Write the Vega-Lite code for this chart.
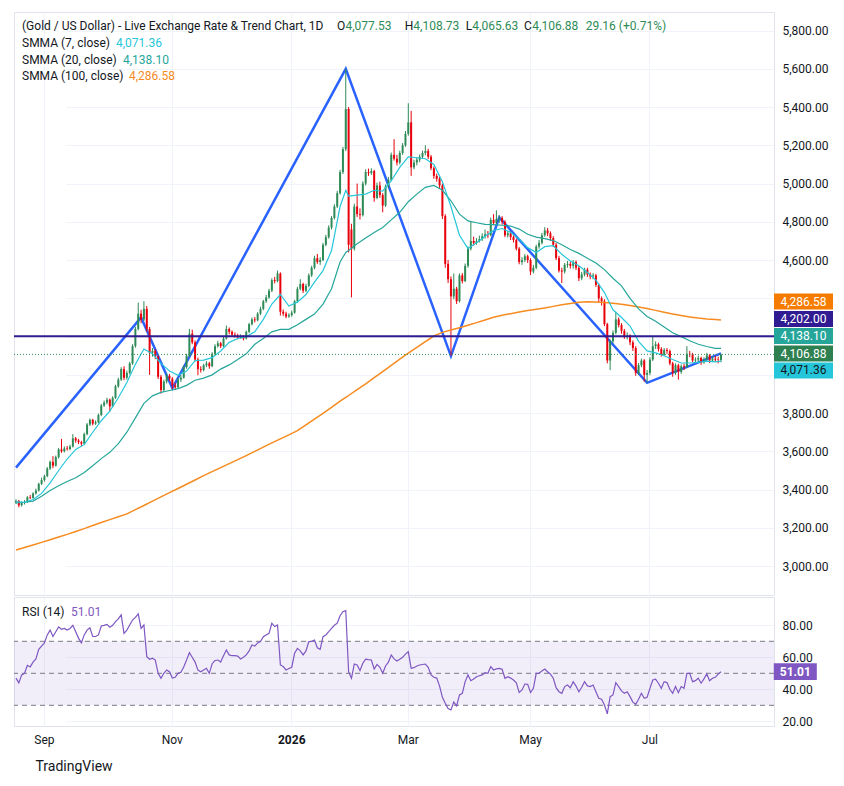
{
"$schema":"https://vega.github.io/schema/vega-lite/v6.json",
"background":"#FFFFFF",
"padding":{"left":10,"top":11,"right":4,"bottom":8},
"title":{"text":"TradingView","orient":"bottom","anchor":"start","offset":14,"dx":25,"fontSize":14,"fontWeight":"normal","font":"Roboto","color":"#131722"},
"datasets":{
"candles":[
{"date":"2025-08-18","open":3332,"high":3350,"low":3324,"close":3340,"rsi":47},
{"date":"2025-08-19","open":3340,"high":3346,"low":3308,"close":3318,"rsi":44},
{"date":"2025-08-20","open":3318,"high":3338,"low":3312,"close":3330,"rsi":49},
{"date":"2025-08-21","open":3330,"high":3345,"low":3322,"close":3335,"rsi":50},
{"date":"2025-08-22","open":3335,"high":3366,"low":3330,"close":3360,"rsi":55},
{"date":"2025-08-25","open":3360,"high":3372,"low":3350,"close":3357,"rsi":54},
{"date":"2025-08-26","open":3357,"high":3386,"low":3352,"close":3380,"rsi":57},
{"date":"2025-08-27","open":3380,"high":3405,"low":3374,"close":3395,"rsi":59},
{"date":"2025-08-28","open":3395,"high":3436,"low":3390,"close":3430,"rsi":65},
{"date":"2025-08-29","open":3430,"high":3462,"low":3424,"close":3450,"rsi":67},
{"date":"2025-09-01","open":3450,"high":3478,"low":3442,"close":3470,"rsi":69},
{"date":"2025-09-02","open":3470,"high":3518,"low":3465,"close":3510,"rsi":74},
{"date":"2025-09-03","open":3510,"high":3552,"low":3502,"close":3545,"rsi":77},
{"date":"2025-09-04","open":3545,"high":3575,"low":3512,"close":3525,"rsi":73},
{"date":"2025-09-05","open":3525,"high":3578,"low":3520,"close":3570,"rsi":76},
{"date":"2025-09-08","open":3570,"high":3618,"low":3562,"close":3610,"rsi":79},
{"date":"2025-09-09","open":3610,"high":3665,"low":3592,"close":3600,"rsi":77.5},
{"date":"2025-09-10","open":3600,"high":3626,"low":3594,"close":3615,"rsi":78},
{"date":"2025-09-11","open":3615,"high":3628,"low":3604,"close":3612,"rsi":77},
{"date":"2025-09-12","open":3612,"high":3634,"low":3606,"close":3625,"rsi":78},
{"date":"2025-09-15","open":3625,"high":3690,"low":3620,"close":3668,"rsi":80},
{"date":"2025-09-16","open":3668,"high":3675,"low":3645,"close":3657,"rsi":76},
{"date":"2025-09-17","open":3657,"high":3665,"low":3638,"close":3648,"rsi":72},
{"date":"2025-09-18","open":3648,"high":3655,"low":3628,"close":3640,"rsi":69},
{"date":"2025-09-19","open":3640,"high":3698,"low":3636,"close":3690,"rsi":74},
{"date":"2025-09-22","open":3690,"high":3748,"low":3684,"close":3740,"rsi":77},
{"date":"2025-09-23","open":3740,"high":3772,"low":3732,"close":3765,"rsi":78.5},
{"date":"2025-09-24","open":3765,"high":3770,"low":3735,"close":3745,"rsi":73},
{"date":"2025-09-25","open":3745,"high":3762,"low":3738,"close":3752,"rsi":73},
{"date":"2025-09-26","open":3752,"high":3798,"low":3746,"close":3790,"rsi":74},
{"date":"2025-09-29","open":3790,"high":3848,"low":3784,"close":3840,"rsi":79.6},
{"date":"2025-09-30","open":3840,"high":3866,"low":3832,"close":3855,"rsi":80},
{"date":"2025-10-01","open":3855,"high":3880,"low":3846,"close":3870,"rsi":80.6},
{"date":"2025-10-02","open":3870,"high":3876,"low":3808,"close":3835,"rsi":78.8},
{"date":"2025-10-03","open":3835,"high":3888,"low":3830,"close":3880,"rsi":80},
{"date":"2025-10-06","open":3880,"high":3948,"low":3874,"close":3940,"rsi":82.3},
{"date":"2025-10-07","open":3940,"high":3985,"low":3932,"close":3975,"rsi":84},
{"date":"2025-10-08","open":3975,"high":4040,"low":3968,"close":4030,"rsi":86.5},
{"date":"2025-10-09","open":4030,"high":4045,"low":3972,"close":3985,"rsi":75},
{"date":"2025-10-10","open":3985,"high":4022,"low":3975,"close":4010,"rsi":77},
{"date":"2025-10-13","open":4010,"high":4068,"low":4002,"close":4060,"rsi":80.2},
{"date":"2025-10-14","open":4060,"high":4160,"low":4052,"close":4150,"rsi":83.3},
{"date":"2025-10-15","open":4150,"high":4252,"low":4142,"close":4240,"rsi":85},
{"date":"2025-10-16","open":4240,"high":4378,"low":4232,"close":4320,"rsi":87.1},
{"date":"2025-10-17","open":4320,"high":4340,"low":4270,"close":4290,"rsi":78.1},
{"date":"2025-10-20","open":4290,"high":4385,"low":4282,"close":4345,"rsi":80.2},
{"date":"2025-10-21","open":4345,"high":4360,"low":4225,"close":4240,"rsi":60.4},
{"date":"2025-10-22","open":4240,"high":4250,"low":4000,"close":4115,"rsi":58.8},
{"date":"2025-10-23","open":4115,"high":4140,"low":4095,"close":4125,"rsi":59.4},
{"date":"2025-10-24","open":4125,"high":4135,"low":4082,"close":4095,"rsi":58.3},
{"date":"2025-10-27","open":4095,"high":4102,"low":3978,"close":3990,"rsi":50},
{"date":"2025-10-28","open":3990,"high":4000,"low":3902,"close":3920,"rsi":46.9},
{"date":"2025-10-29","open":3920,"high":3975,"low":3912,"close":3965,"rsi":50},
{"date":"2025-10-30","open":3965,"high":4008,"low":3955,"close":3995,"rsi":52.1},
{"date":"2025-10-31","open":3995,"high":4005,"low":3968,"close":3980,"rsi":51},
{"date":"2025-11-03","open":3980,"high":3988,"low":3925,"close":3945,"rsi":47},
{"date":"2025-11-04","open":3945,"high":3958,"low":3922,"close":3935,"rsi":47.5},
{"date":"2025-11-05","open":3935,"high":3984,"low":3930,"close":3975,"rsi":50},
{"date":"2025-11-06","open":3975,"high":3998,"low":3962,"close":3985,"rsi":50.6},
{"date":"2025-11-07","open":3985,"high":4050,"low":3980,"close":4040,"rsi":54},
{"date":"2025-11-10","open":4040,"high":4110,"low":4032,"close":4100,"rsi":58.3},
{"date":"2025-11-11","open":4100,"high":4240,"low":4092,"close":4215,"rsi":62.9},
{"date":"2025-11-12","open":4215,"high":4236,"low":4160,"close":4170,"rsi":60},
{"date":"2025-11-13","open":4170,"high":4180,"low":4070,"close":4080,"rsi":57},
{"date":"2025-11-14","open":4080,"high":4090,"low":3998,"close":4030,"rsi":52},
{"date":"2025-11-17","open":4030,"high":4045,"low":4012,"close":4025,"rsi":51},
{"date":"2025-11-18","open":4025,"high":4058,"low":4018,"close":4050,"rsi":52},
{"date":"2025-11-19","open":4050,"high":4072,"low":4040,"close":4060,"rsi":53.1},
{"date":"2025-11-20","open":4060,"high":4068,"low":4032,"close":4045,"rsi":50},
{"date":"2025-11-21","open":4045,"high":4118,"low":4040,"close":4110,"rsi":56},
{"date":"2025-11-24","open":4110,"high":4160,"low":4102,"close":4150,"rsi":58},
{"date":"2025-11-25","open":4150,"high":4178,"low":4142,"close":4165,"rsi":58.3},
{"date":"2025-11-26","open":4165,"high":4172,"low":4140,"close":4150,"rsi":57},
{"date":"2025-11-27","open":4150,"high":4198,"low":4145,"close":4190,"rsi":61},
{"date":"2025-11-28","open":4190,"high":4258,"low":4184,"close":4240,"rsi":64.6},
{"date":"2025-12-01","open":4240,"high":4248,"low":4212,"close":4225,"rsi":61.5},
{"date":"2025-12-02","open":4225,"high":4232,"low":4200,"close":4210,"rsi":61},
{"date":"2025-12-03","open":4210,"high":4222,"low":4195,"close":4205,"rsi":61},
{"date":"2025-12-04","open":4205,"high":4215,"low":4186,"close":4195,"rsi":60.8},
{"date":"2025-12-05","open":4195,"high":4212,"low":4188,"close":4200,"rsi":59},
{"date":"2025-12-08","open":4200,"high":4208,"low":4180,"close":4190,"rsi":60},
{"date":"2025-12-09","open":4190,"high":4232,"low":4185,"close":4225,"rsi":61.5},
{"date":"2025-12-10","open":4225,"high":4272,"low":4218,"close":4265,"rsi":64},
{"date":"2025-12-11","open":4265,"high":4300,"low":4258,"close":4290,"rsi":67.7},
{"date":"2025-12-12","open":4290,"high":4302,"low":4274,"close":4285,"rsi":67},
{"date":"2025-12-15","open":4285,"high":4328,"low":4280,"close":4320,"rsi":69},
{"date":"2025-12-16","open":4320,"high":4356,"low":4312,"close":4345,"rsi":69.8},
{"date":"2025-12-17","open":4345,"high":4392,"low":4338,"close":4385,"rsi":72.9},
{"date":"2025-12-18","open":4385,"high":4418,"low":4376,"close":4405,"rsi":74},
{"date":"2025-12-19","open":4405,"high":4450,"low":4398,"close":4440,"rsi":75},
{"date":"2025-12-22","open":4440,"high":4505,"low":4432,"close":4495,"rsi":81.3},
{"date":"2025-12-23","open":4495,"high":4512,"low":4478,"close":4490,"rsi":79.2},
{"date":"2025-12-24","open":4490,"high":4545,"low":4484,"close":4530,"rsi":80.2},
{"date":"2025-12-26","open":4530,"high":4536,"low":4310,"close":4330,"rsi":55.2},
{"date":"2025-12-29","open":4330,"high":4342,"low":4308,"close":4320,"rsi":54.2},
{"date":"2025-12-30","open":4320,"high":4330,"low":4296,"close":4305,"rsi":52.1},
{"date":"2025-12-31","open":4305,"high":4322,"low":4298,"close":4312,"rsi":53},
{"date":"2026-01-02","open":4312,"high":4336,"low":4304,"close":4325,"rsi":53.8},
{"date":"2026-01-05","open":4325,"high":4392,"low":4320,"close":4385,"rsi":62.5},
{"date":"2026-01-06","open":4385,"high":4460,"low":4378,"close":4450,"rsi":65.6},
{"date":"2026-01-07","open":4450,"high":4500,"low":4442,"close":4475,"rsi":64},
{"date":"2026-01-08","open":4475,"high":4482,"low":4428,"close":4440,"rsi":61.5},
{"date":"2026-01-09","open":4440,"high":4476,"low":4432,"close":4465,"rsi":64},
{"date":"2026-01-12","open":4465,"high":4530,"low":4458,"close":4520,"rsi":69.8},
{"date":"2026-01-13","open":4520,"high":4570,"low":4512,"close":4560,"rsi":70},
{"date":"2026-01-14","open":4560,"high":4622,"low":4552,"close":4610,"rsi":70.8},
{"date":"2026-01-15","open":4610,"high":4632,"low":4580,"close":4590,"rsi":66},
{"date":"2026-01-16","open":4590,"high":4615,"low":4575,"close":4600,"rsi":65},
{"date":"2026-01-19","open":4600,"high":4690,"low":4595,"close":4680,"rsi":72.9},
{"date":"2026-01-20","open":4680,"high":4732,"low":4672,"close":4720,"rsi":74},
{"date":"2026-01-21","open":4720,"high":4782,"low":4712,"close":4770,"rsi":76},
{"date":"2026-01-22","open":4770,"high":4830,"low":4760,"close":4820,"rsi":78.1},
{"date":"2026-01-23","open":4820,"high":4892,"low":4812,"close":4880,"rsi":80},
{"date":"2026-01-26","open":4880,"high":4962,"low":4872,"close":4950,"rsi":81.3},
{"date":"2026-01-27","open":4950,"high":5072,"low":4942,"close":5060,"rsi":86},
{"date":"2026-01-28","open":5060,"high":5192,"low":5050,"close":5180,"rsi":88.5},
{"date":"2026-01-29","open":5180,"high":5600,"low":5170,"close":5390,"rsi":89.2},
{"date":"2026-01-30","open":5390,"high":5400,"low":4640,"close":4680,"rsi":51},
{"date":"2026-02-02","open":4760,"high":4790,"low":4405,"close":4660,"rsi":46.9},
{"date":"2026-02-03","open":4660,"high":4895,"low":4650,"close":4880,"rsi":55.8},
{"date":"2026-02-04","open":4880,"high":5000,"low":4825,"close":4840,"rsi":55.2},
{"date":"2026-02-05","open":4840,"high":4870,"low":4812,"close":4835,"rsi":51.7},
{"date":"2026-02-06","open":4835,"high":5012,"low":4828,"close":5000,"rsi":56.3},
{"date":"2026-02-09","open":5000,"high":5075,"low":4990,"close":5060,"rsi":58.8},
{"date":"2026-02-10","open":5060,"high":5078,"low":5040,"close":5055,"rsi":58.5},
{"date":"2026-02-11","open":5055,"high":5080,"low":5045,"close":5065,"rsi":58.3},
{"date":"2026-02-12","open":5065,"high":5072,"low":4905,"close":4925,"rsi":52.7},
{"date":"2026-02-13","open":4925,"high":5005,"low":4918,"close":4990,"rsi":55.6},
{"date":"2026-02-16","open":4990,"high":5010,"low":4925,"close":4940,"rsi":53.8},
{"date":"2026-02-17","open":4940,"high":4950,"low":4850,"close":4885,"rsi":50},
{"date":"2026-02-18","open":4885,"high":4995,"low":4878,"close":4985,"rsi":54.6},
{"date":"2026-02-19","open":4985,"high":5035,"low":4975,"close":5020,"rsi":57},
{"date":"2026-02-20","open":5020,"high":5162,"low":5012,"close":5150,"rsi":61.5},
{"date":"2026-02-23","open":5150,"high":5232,"low":5120,"close":5130,"rsi":59},
{"date":"2026-02-24","open":5130,"high":5150,"low":5095,"close":5110,"rsi":57.7},
{"date":"2026-02-25","open":5110,"high":5172,"low":5100,"close":5160,"rsi":58.8},
{"date":"2026-02-26","open":5160,"high":5212,"low":5150,"close":5200,"rsi":60},
{"date":"2026-02-27","open":5200,"high":5275,"low":5192,"close":5260,"rsi":62},
{"date":"2026-03-02","open":5260,"high":5420,"low":5250,"close":5320,"rsi":63.5},
{"date":"2026-03-03","open":5320,"high":5380,"low":5040,"close":5085,"rsi":53.1},
{"date":"2026-03-04","open":5085,"high":5125,"low":5075,"close":5110,"rsi":53.5},
{"date":"2026-03-05","open":5110,"high":5138,"low":5095,"close":5125,"rsi":54.6},
{"date":"2026-03-06","open":5125,"high":5152,"low":5112,"close":5140,"rsi":55.2},
{"date":"2026-03-09","open":5140,"high":5172,"low":5130,"close":5160,"rsi":55.5},
{"date":"2026-03-10","open":5160,"high":5200,"low":5148,"close":5170,"rsi":55.8},
{"date":"2026-03-11","open":5170,"high":5182,"low":5128,"close":5140,"rsi":53.8},
{"date":"2026-03-12","open":5140,"high":5150,"low":5070,"close":5080,"rsi":49},
{"date":"2026-03-13","open":5080,"high":5090,"low":5025,"close":5040,"rsi":47.5},
{"date":"2026-03-16","open":5040,"high":5052,"low":5010,"close":5025,"rsi":47},
{"date":"2026-03-17","open":5025,"high":5035,"low":4975,"close":4990,"rsi":42},
{"date":"2026-03-18","open":4990,"high":5000,"low":4815,"close":4830,"rsi":35},
{"date":"2026-03-19","open":4830,"high":4840,"low":4560,"close":4580,"rsi":31.3},
{"date":"2026-03-20","open":4580,"high":4600,"low":4480,"close":4500,"rsi":28},
{"date":"2026-03-23","open":4500,"high":4515,"low":4100,"close":4410,"rsi":27.1},
{"date":"2026-03-24","open":4410,"high":4530,"low":4395,"close":4450,"rsi":32},
{"date":"2026-03-25","open":4450,"high":4460,"low":4370,"close":4385,"rsi":29.6},
{"date":"2026-03-26","open":4385,"high":4530,"low":4378,"close":4520,"rsi":36.5},
{"date":"2026-03-27","open":4520,"high":4532,"low":4478,"close":4490,"rsi":37.5},
{"date":"2026-03-30","open":4490,"high":4582,"low":4485,"close":4570,"rsi":44.8},
{"date":"2026-03-31","open":4570,"high":4672,"low":4560,"close":4660,"rsi":49},
{"date":"2026-04-01","open":4660,"high":4800,"low":4650,"close":4700,"rsi":45.4},
{"date":"2026-04-02","open":4700,"high":4722,"low":4675,"close":4690,"rsi":46.5},
{"date":"2026-04-06","open":4690,"high":4715,"low":4680,"close":4700,"rsi":47.9},
{"date":"2026-04-07","open":4700,"high":4728,"low":4692,"close":4710,"rsi":48.5},
{"date":"2026-04-08","open":4710,"high":4740,"low":4700,"close":4725,"rsi":49},
{"date":"2026-04-09","open":4725,"high":4760,"low":4712,"close":4735,"rsi":50.4},
{"date":"2026-04-10","open":4735,"high":4752,"low":4715,"close":4730,"rsi":50},
{"date":"2026-04-13","open":4730,"high":4822,"low":4725,"close":4810,"rsi":54.2},
{"date":"2026-04-14","open":4810,"high":4840,"low":4782,"close":4795,"rsi":52.1},
{"date":"2026-04-15","open":4795,"high":4860,"low":4788,"close":4815,"rsi":52.8},
{"date":"2026-04-16","open":4815,"high":4835,"low":4795,"close":4820,"rsi":53.1},
{"date":"2026-04-17","open":4820,"high":4830,"low":4785,"close":4800,"rsi":52.5},
{"date":"2026-04-20","open":4800,"high":4808,"low":4720,"close":4730,"rsi":46.9},
{"date":"2026-04-21","open":4730,"high":4752,"low":4718,"close":4740,"rsi":47.9},
{"date":"2026-04-22","open":4740,"high":4750,"low":4705,"close":4720,"rsi":47},
{"date":"2026-04-23","open":4720,"high":4730,"low":4692,"close":4705,"rsi":45.8},
{"date":"2026-04-24","open":4705,"high":4712,"low":4650,"close":4660,"rsi":44},
{"date":"2026-04-27","open":4660,"high":4668,"low":4578,"close":4590,"rsi":38},
{"date":"2026-04-28","open":4590,"high":4615,"low":4575,"close":4600,"rsi":39.6},
{"date":"2026-04-29","open":4600,"high":4632,"low":4590,"close":4620,"rsi":43.3},
{"date":"2026-04-30","open":4620,"high":4628,"low":4585,"close":4600,"rsi":43.1},
{"date":"2026-05-01","open":4600,"high":4610,"low":4522,"close":4540,"rsi":38},
{"date":"2026-05-04","open":4540,"high":4575,"low":4530,"close":4560,"rsi":40.6},
{"date":"2026-05-05","open":4560,"high":4680,"low":4552,"close":4670,"rsi":50},
{"date":"2026-05-06","open":4670,"high":4705,"low":4660,"close":4690,"rsi":50},
{"date":"2026-05-07","open":4690,"high":4742,"low":4682,"close":4730,"rsi":51.5},
{"date":"2026-05-08","open":4730,"high":4772,"low":4722,"close":4755,"rsi":52.7},
{"date":"2026-05-11","open":4755,"high":4768,"low":4725,"close":4740,"rsi":51},
{"date":"2026-05-12","open":4740,"high":4750,"low":4700,"close":4715,"rsi":49.5},
{"date":"2026-05-13","open":4715,"high":4725,"low":4668,"close":4680,"rsi":46.9},
{"date":"2026-05-14","open":4680,"high":4690,"low":4600,"close":4610,"rsi":41},
{"date":"2026-05-15","open":4610,"high":4622,"low":4535,"close":4545,"rsi":38.5},
{"date":"2026-05-18","open":4545,"high":4560,"low":4480,"close":4540,"rsi":37.5},
{"date":"2026-05-19","open":4540,"high":4585,"low":4530,"close":4575,"rsi":41.7},
{"date":"2026-05-20","open":4575,"high":4595,"low":4560,"close":4580,"rsi":42.7},
{"date":"2026-05-21","open":4580,"high":4592,"low":4555,"close":4570,"rsi":41},
{"date":"2026-05-22","open":4570,"high":4600,"low":4555,"close":4590,"rsi":44.8},
{"date":"2026-05-26","open":4590,"high":4598,"low":4548,"close":4560,"rsi":42},
{"date":"2026-05-27","open":4560,"high":4570,"low":4490,"close":4505,"rsi":38.5},
{"date":"2026-05-28","open":4505,"high":4538,"low":4495,"close":4525,"rsi":41.3},
{"date":"2026-05-29","open":4525,"high":4560,"low":4515,"close":4550,"rsi":44.8},
{"date":"2026-06-01","open":4550,"high":4560,"low":4512,"close":4525,"rsi":42.1},
{"date":"2026-06-02","open":4525,"high":4535,"low":4500,"close":4515,"rsi":41.7},
{"date":"2026-06-03","open":4515,"high":4532,"low":4500,"close":4520,"rsi":42.7},
{"date":"2026-06-04","open":4520,"high":4528,"low":4460,"close":4470,"rsi":38.5},
{"date":"2026-06-05","open":4470,"high":4478,"low":4380,"close":4400,"rsi":34.4},
{"date":"2026-06-08","open":4400,"high":4410,"low":4362,"close":4385,"rsi":33.8},
{"date":"2026-06-09","open":4385,"high":4395,"low":4255,"close":4265,"rsi":30.2},
{"date":"2026-06-10","open":4265,"high":4272,"low":4060,"close":4075,"rsi":24.6},
{"date":"2026-06-11","open":4075,"high":4185,"low":4025,"close":4175,"rsi":35.4},
{"date":"2026-06-12","open":4175,"high":4232,"low":4165,"close":4220,"rsi":36.5},
{"date":"2026-06-15","open":4220,"high":4330,"low":4212,"close":4290,"rsi":44.2},
{"date":"2026-06-16","open":4290,"high":4300,"low":4248,"close":4260,"rsi":41.7},
{"date":"2026-06-17","open":4260,"high":4270,"low":4215,"close":4230,"rsi":39},
{"date":"2026-06-18","open":4230,"high":4240,"low":4188,"close":4200,"rsi":37.5},
{"date":"2026-06-19","open":4200,"high":4222,"low":4185,"close":4205,"rsi":38.5},
{"date":"2026-06-22","open":4205,"high":4212,"low":4155,"close":4170,"rsi":35.4},
{"date":"2026-06-23","open":4170,"high":4180,"low":4125,"close":4140,"rsi":32},
{"date":"2026-06-24","open":4140,"high":4150,"low":3995,"close":4010,"rsi":30.6},
{"date":"2026-06-25","open":4010,"high":4062,"low":4000,"close":4050,"rsi":33.8},
{"date":"2026-06-26","open":4050,"high":4085,"low":4040,"close":4075,"rsi":37.5},
{"date":"2026-06-29","open":4075,"high":4082,"low":3965,"close":4000,"rsi":34.4},
{"date":"2026-06-30","open":4000,"high":4025,"low":3960,"close":4010,"rsi":35},
{"date":"2026-07-01","open":4010,"high":4092,"low":3998,"close":4080,"rsi":40.6},
{"date":"2026-07-02","open":4080,"high":4200,"low":4072,"close":4150,"rsi":45.8},
{"date":"2026-07-03","open":4150,"high":4175,"low":4135,"close":4160,"rsi":46.3},
{"date":"2026-07-06","open":4160,"high":4168,"low":4122,"close":4135,"rsi":43.8},
{"date":"2026-07-07","open":4135,"high":4145,"low":4095,"close":4105,"rsi":40.6},
{"date":"2026-07-08","open":4105,"high":4140,"low":4098,"close":4130,"rsi":44.8},
{"date":"2026-07-09","open":4130,"high":4140,"low":4110,"close":4125,"rsi":44.2},
{"date":"2026-07-10","open":4125,"high":4132,"low":4050,"close":4060,"rsi":40},
{"date":"2026-07-13","open":4060,"high":4068,"low":3990,"close":4010,"rsi":37.5},
{"date":"2026-07-14","open":4010,"high":4060,"low":4000,"close":4050,"rsi":41.7},
{"date":"2026-07-15","open":4050,"high":4058,"low":3975,"close":4015,"rsi":37.9},
{"date":"2026-07-16","open":4015,"high":4055,"low":4005,"close":4045,"rsi":41.7},
{"date":"2026-07-17","open":4045,"high":4058,"low":4025,"close":4040,"rsi":40.6},
{"date":"2026-07-20","open":4040,"high":4150,"low":4035,"close":4110,"rsi":50},
{"date":"2026-07-21","open":4110,"high":4125,"low":4092,"close":4108,"rsi":50},
{"date":"2026-07-22","open":4108,"high":4115,"low":4065,"close":4075,"rsi":44.8},
{"date":"2026-07-23","open":4075,"high":4092,"low":4062,"close":4080,"rsi":45.4},
{"date":"2026-07-24","open":4080,"high":4100,"low":4070,"close":4088,"rsi":46.9},
{"date":"2026-07-27","open":4088,"high":4095,"low":4052,"close":4065,"rsi":43.8},
{"date":"2026-07-28","open":4065,"high":4092,"low":4058,"close":4080,"rsi":46.5},
{"date":"2026-07-29","open":4080,"high":4115,"low":4070,"close":4102,"rsi":49.6},
{"date":"2026-07-30","open":4102,"high":4108,"low":4062,"close":4075,"rsi":45.4},
{"date":"2026-07-31","open":4075,"high":4098,"low":4068,"close":4085,"rsi":46.9},
{"date":"2026-08-03","open":4085,"high":4100,"low":4068,"close":4080,"rsi":47.5},
{"date":"2026-08-04","open":4080,"high":4095,"low":4060,"close":4077.72,"rsi":49.5},
{"date":"2026-08-05","open":4077.53,"high":4108.73,"low":4065.63,"close":4106.88,"rsi":51.01}
],
"smma":[
{"date":"2025-08-18","smma7":3336,"smma20":3330,"smma100":3084},
{"date":"2025-08-21","smma7":3334,"smma20":3334,"smma100":3097},
{"date":"2025-08-26","smma7":3348,"smma20":3340,"smma100":3110},
{"date":"2025-08-29","smma7":3380,"smma20":3365,"smma100":3124},
{"date":"2025-09-03","smma7":3435,"smma20":3395,"smma100":3138},
{"date":"2025-09-08","smma7":3500,"smma20":3420,"smma100":3152},
{"date":"2025-09-11","smma7":3560,"smma20":3442,"smma100":3166},
{"date":"2025-09-16","smma7":3610,"smma20":3462,"smma100":3181},
{"date":"2025-09-19","smma7":3635,"smma20":3490,"smma100":3196},
{"date":"2025-09-24","smma7":3700,"smma20":3525,"smma100":3212},
{"date":"2025-09-29","smma7":3760,"smma20":3562,"smma100":3228},
{"date":"2025-10-02","smma7":3810,"smma20":3595,"smma100":3243},
{"date":"2025-10-07","smma7":3880,"smma20":3640,"smma100":3258},
{"date":"2025-10-10","smma7":3960,"smma20":3700,"smma100":3273},
{"date":"2025-10-15","smma7":4055,"smma20":3775,"smma100":3295},
{"date":"2025-10-20","smma7":4135,"smma20":3851,"smma100":3317},
{"date":"2025-10-23","smma7":4110,"smma20":3890,"smma100":3340},
{"date":"2025-10-28","smma7":4060,"smma20":3908,"smma100":3362},
{"date":"2025-10-31","smma7":4020,"smma20":3918,"smma100":3384},
{"date":"2025-11-05","smma7":3998,"smma20":3928,"smma100":3406},
{"date":"2025-11-10","smma7":4020,"smma20":3945,"smma100":3428},
{"date":"2025-11-13","smma7":4075,"smma20":3972,"smma100":3450},
{"date":"2025-11-18","smma7":4077,"smma20":3983,"smma100":3473},
{"date":"2025-11-21","smma7":4090,"smma20":4000,"smma100":3494},
{"date":"2025-11-26","smma7":4125,"smma20":4030,"smma100":3515},
{"date":"2025-12-01","smma7":4170,"smma20":4052,"smma100":3536},
{"date":"2025-12-04","smma7":4190,"smma20":4080,"smma100":3557},
{"date":"2025-12-09","smma7":4200,"smma20":4110,"smma100":3578},
{"date":"2025-12-12","smma7":4225,"smma20":4160,"smma100":3600},
{"date":"2025-12-17","smma7":4290,"smma20":4190,"smma100":3622},
{"date":"2025-12-22","smma7":4370,"smma20":4225,"smma100":3644},
{"date":"2025-12-26","smma7":4420,"smma20":4238,"smma100":3665},
{"date":"2025-12-31","smma7":4360,"smma20":4238,"smma100":3686},
{"date":"2026-01-06","smma7":4380,"smma20":4262,"smma100":3708},
{"date":"2026-01-09","smma7":4420,"smma20":4290,"smma100":3738},
{"date":"2026-01-14","smma7":4485,"smma20":4318,"smma100":3768},
{"date":"2026-01-19","smma7":4545,"smma20":4370,"smma100":3798},
{"date":"2026-01-22","smma7":4650,"smma20":4450,"smma100":3830},
{"date":"2026-01-27","smma7":4880,"smma20":4590,"smma100":3862},
{"date":"2026-01-29","smma7":4965,"smma20":4640,"smma100":3882},
{"date":"2026-01-30","smma7":4935,"smma20":4650,"smma100":3892},
{"date":"2026-02-04","smma7":4940,"smma20":4685,"smma100":3923},
{"date":"2026-02-09","smma7":4945,"smma20":4715,"smma100":3953},
{"date":"2026-02-12","smma7":4965,"smma20":4744,"smma100":3985},
{"date":"2026-02-17","smma7":4960,"smma20":4770,"smma100":4017},
{"date":"2026-02-20","smma7":5015,"smma20":4810,"smma100":4050},
{"date":"2026-02-25","smma7":5085,"smma20":4850,"smma100":4082},
{"date":"2026-03-02","smma7":5140,"smma20":4905,"smma100":4113},
{"date":"2026-03-05","smma7":5135,"smma20":4945,"smma100":4144},
{"date":"2026-03-10","smma7":5130,"smma20":4980,"smma100":4174},
{"date":"2026-03-13","smma7":5100,"smma20":4990,"smma100":4203},
{"date":"2026-03-18","smma7":5010,"smma20":4965,"smma100":4222},
{"date":"2026-03-23","smma7":4880,"smma20":4910,"smma100":4234},
{"date":"2026-03-26","smma7":4730,"smma20":4840,"smma100":4246},
{"date":"2026-03-31","smma7":4660,"smma20":4805,"smma100":4259},
{"date":"2026-04-06","smma7":4690,"smma20":4795,"smma100":4273},
{"date":"2026-04-09","smma7":4725,"smma20":4787,"smma100":4287},
{"date":"2026-04-14","smma7":4755,"smma20":4785,"smma100":4301},
{"date":"2026-04-17","smma7":4765,"smma20":4782,"smma100":4312},
{"date":"2026-04-22","smma7":4745,"smma20":4778,"smma100":4320},
{"date":"2026-04-27","smma7":4710,"smma20":4762,"smma100":4328},
{"date":"2026-04-30","smma7":4665,"smma20":4735,"smma100":4336},
{"date":"2026-05-05","smma7":4640,"smma20":4720,"smma100":4343},
{"date":"2026-05-08","smma7":4670,"smma20":4712,"smma100":4350},
{"date":"2026-05-13","smma7":4675,"smma20":4702,"smma100":4358},
{"date":"2026-05-18","smma7":4630,"smma20":4680,"smma100":4366},
{"date":"2026-05-21","smma7":4595,"smma20":4655,"smma100":4373},
{"date":"2026-05-27","smma7":4570,"smma20":4635,"smma100":4379},
{"date":"2026-06-01","smma7":4535,"smma20":4610,"smma100":4382},
{"date":"2026-06-04","smma7":4495,"smma20":4585,"smma100":4381},
{"date":"2026-06-09","smma7":4430,"smma20":4550,"smma100":4378},
{"date":"2026-06-12","smma7":4340,"smma20":4505,"smma100":4374},
{"date":"2026-06-17","smma7":4300,"smma20":4465,"smma100":4369},
{"date":"2026-06-22","smma7":4255,"smma20":4400,"smma100":4362},
{"date":"2026-06-25","smma7":4175,"smma20":4345,"smma100":4355},
{"date":"2026-06-30","smma7":4125,"smma20":4305,"smma100":4347},
{"date":"2026-07-03","smma7":4115,"smma20":4280,"smma100":4337},
{"date":"2026-07-08","smma7":4100,"smma20":4250,"smma100":4327},
{"date":"2026-07-13","smma7":4080,"smma20":4220,"smma100":4318},
{"date":"2026-07-16","smma7":4062,"smma20":4200,"smma100":4310},
{"date":"2026-07-21","smma7":4062,"smma20":4178,"smma100":4303},
{"date":"2026-07-24","smma7":4065,"smma20":4160,"smma100":4297},
{"date":"2026-07-29","smma7":4072,"smma20":4148,"smma100":4292},
{"date":"2026-08-03","smma7":4068,"smma20":4138,"smma100":4289},
{"date":"2026-08-05","smma7":4071.36,"smma20":4138.10,"smma100":4286.58}
],
"zigzag":[
{"date":"2025-08-18","price":3515},
{"date":"2025-10-17","price":4300},
{"date":"2025-11-03","price":3930},
{"date":"2026-01-29","price":5600},
{"date":"2026-03-23","price":4098},
{"date":"2026-04-16","price":4823},
{"date":"2026-06-30","price":3958},
{"date":"2026-08-05","price":4112}
]
},
"spacing":0,
"resolve":{"scale":{"x":"shared"}},
"vconcat":[
{
"width":760,"height":583,
"layer":[
{
"encoding":{"x":{"field":"date","type":"ordinal","title":null,"scale":{"type":"band","range":[1,708],"paddingInner":0.3,"paddingOuter":0},"axis":{"values":["2025-09-01","2025-11-03","2026-01-02","2026-03-02","2026-05-01","2026-07-01"],"labels":false,"grid":true}}},
"layer":[
{"data":{"name":"zigzag"},"mark":{"type":"line","color":"#2962FF","strokeWidth":2.5},"encoding":{"y":{"field":"price","type":"quantitative","title":null,"scale":{"domain":[2849,5897],"nice":false,"zero":false},"axis":{"orient":"right","values":[3000,3200,3400,3600,3800,4000,4200,4400,4600,4800,5000,5200,5400,5600,5800],"format":",.2f","labelPadding":8,"grid":true,"labelExpr":"datum.value == 4000 || datum.value == 4200 || datum.value == 4400 ? '' : datum.label"}}}},
{"data":{"name":"candles"},"mark":{"type":"rule","strokeWidth":1},"encoding":{"y":{"field":"low","type":"quantitative","title":null},"y2":{"field":"high"},"color":{"condition":{"test":"datum.close >= datum.open","value":"#2E8B57"},"value":"#E8000B"}}},
{"data":{"name":"candles"},"mark":{"type":"bar"},"encoding":{"y":{"field":"open","type":"quantitative","title":null},"y2":{"field":"close"},"color":{"condition":{"test":"datum.close >= datum.open","value":"#2E8B57"},"value":"#E8000B"}}},
{"data":{"name":"smma"},"mark":{"type":"line","color":"#F68B1F","strokeWidth":1.5},"encoding":{"y":{"field":"smma100","type":"quantitative","title":null}}},
{"data":{"name":"smma"},"mark":{"type":"line","color":"#26A69A","strokeWidth":1.2},"encoding":{"y":{"field":"smma20","type":"quantitative","title":null}}},
{"data":{"name":"smma"},"mark":{"type":"line","color":"#26C6DA","strokeWidth":1.2},"encoding":{"y":{"field":"smma7","type":"quantitative","title":null}}}
]
},
{"data":{"values":[{}]},"mark":{"type":"rule","color":"#311B92","strokeWidth":2},"encoding":{"y":{"datum":4202}}},
{"data":{"values":[{}]},"mark":{"type":"rule","color":"#2E8B57","strokeWidth":1,"strokeDash":[1,2]},"encoding":{"y":{"datum":4106.88}}},
{"data":{"values":[{}]},"mark":{"type":"point","shape":"M-1,-0.271H1V0.271H-1Z","size":3481,"filled":true,"opacity":1,"color":"#F57C00","x":789.5,"yOffset":-18.5},"encoding":{"y":{"datum":4286.58}}},
{"data":{"values":[{}]},"mark":{"type":"text","text":"4,286.58","align":"center","color":"#FFFFFF","x":789.5,"yOffset":-18.5},"encoding":{"y":{"datum":4286.58}}},
{"data":{"values":[{}]},"mark":{"type":"point","shape":"M-1,-0.271H1V0.271H-1Z","size":3481,"filled":true,"opacity":1,"color":"#311B92","x":789.5,"yOffset":-17.2},"encoding":{"y":{"datum":4202}}},
{"data":{"values":[{}]},"mark":{"type":"text","text":"4,202.00","align":"center","color":"#FFFFFF","x":789.5,"yOffset":-17.2},"encoding":{"y":{"datum":4202}}},
{"data":{"values":[{}]},"mark":{"type":"point","shape":"M-1,-0.271H1V0.271H-1Z","size":3481,"filled":true,"opacity":1,"color":"#26A69A","x":789.5,"yOffset":-12.4},"encoding":{"y":{"datum":4138.1}}},
{"data":{"values":[{}]},"mark":{"type":"text","text":"4,138.10","align":"center","color":"#FFFFFF","x":789.5,"yOffset":-12.4},"encoding":{"y":{"datum":4138.1}}},
{"data":{"values":[{}]},"mark":{"type":"point","shape":"M-1,-0.271H1V0.271H-1Z","size":3481,"filled":true,"opacity":1,"color":"#2E8050","x":789.5,"yOffset":-0.9},"encoding":{"y":{"datum":4106.88}}},
{"data":{"values":[{}]},"mark":{"type":"text","text":"4,106.88","align":"center","color":"#FFFFFF","x":789.5,"yOffset":-0.9},"encoding":{"y":{"datum":4106.88}}},
{"data":{"values":[{}]},"mark":{"type":"point","shape":"M-1,-0.271H1V0.271H-1Z","size":3481,"filled":true,"opacity":1,"color":"#26C6DA","x":789.5,"yOffset":9.3},"encoding":{"y":{"datum":4071.36}}},
{"data":{"values":[{}]},"mark":{"type":"text","text":"4,071.36","align":"center","color":"#131722","x":789.5,"yOffset":9.3},"encoding":{"y":{"datum":4071.36}}},
{"data":{"values":[{}]},"mark":{"type":"text","text":"(Gold / US Dollar) - Live Exchange Rate & Trend Chart, 1D","x":8,"y":14}},
{"data":{"values":[{}]},"mark":{"type":"text","text":"O","x":323,"y":14}},
{"data":{"values":[{}]},"mark":{"type":"text","text":"4,077.53","x":331.5,"y":14,"color":"#2E8B57"}},
{"data":{"values":[{}]},"mark":{"type":"text","text":"H","x":390.7,"y":14}},
{"data":{"values":[{}]},"mark":{"type":"text","text":"4,108.73","x":399.3,"y":14,"color":"#2E8B57"}},
{"data":{"values":[{}]},"mark":{"type":"text","text":"L","x":451.7,"y":14}},
{"data":{"values":[{}]},"mark":{"type":"text","text":"4,065.63","x":458.3,"y":14,"color":"#2E8B57"}},
{"data":{"values":[{}]},"mark":{"type":"text","text":"C","x":510,"y":14}},
{"data":{"values":[{}]},"mark":{"type":"text","text":"4,106.88","x":518.3,"y":14,"color":"#2E8B57"}},
{"data":{"values":[{}]},"mark":{"type":"text","text":"29.16 (+0.71%)","x":571.7,"y":14,"color":"#2E8B57"}},
{"data":{"values":[{}]},"mark":{"type":"text","text":"SMMA (7, close)","x":8,"y":31}},
{"data":{"values":[{}]},"mark":{"type":"text","text":"4,071.36","x":102,"y":31,"color":"#26C6DA"}},
{"data":{"values":[{}]},"mark":{"type":"text","text":"SMMA (20, close)","x":8,"y":47.5}},
{"data":{"values":[{}]},"mark":{"type":"text","text":"4,138.10","x":109,"y":47.5,"color":"#26A69A"}},
{"data":{"values":[{}]},"mark":{"type":"text","text":"SMMA (100, close)","x":8,"y":64}},
{"data":{"values":[{}]},"mark":{"type":"text","text":"4,286.58","x":115,"y":64,"color":"#F68B1F"}}
]
},
{
"width":760,"height":129,
"layer":[
{"data":{"values":[{}]},"mark":{"type":"rect","color":"#7E57C2","opacity":0.1},"encoding":{"y":{"datum":70},"y2":{"datum":30}}},
{"data":{"values":[{"level":70},{"level":50},{"level":30}]},"mark":{"type":"rule","color":"#787B86","strokeDash":[5,4],"strokeWidth":1},"encoding":{"y":{"field":"level","type":"quantitative","title":null}}},
{"data":{"name":"candles"},"mark":{"type":"line","color":"#7E57C2","strokeWidth":1.2},"encoding":{
"x":{"field":"date","type":"ordinal","title":null,"scale":{"type":"band","range":[1,708],"paddingInner":0.3,"paddingOuter":0},"axis":{"values":["2025-09-01","2025-11-03","2026-01-02","2026-03-02","2026-05-01","2026-07-01"],"labelAngle":0,"labelPadding":8,"grid":true,"labelExpr":"utcFormat(toDate(datum.value), '%m') == '01' ? utcFormat(toDate(datum.value), '%Y') : utcFormat(toDate(datum.value), '%b')","labelFontWeight":{"condition":{"test":"datum.value == '2026-01-02'","value":"bold"},"value":"normal"}}},
"y":{"field":"rsi","type":"quantitative","title":null,"scale":{"domain":[17.06,97.7],"nice":false,"zero":false},"axis":{"orient":"right","values":[20,40,60,80],"format":".2f","labelPadding":8,"grid":true}}}},
{"data":{"values":[{}]},"mark":{"type":"point","shape":"M-1,-0.388H1V0.388H-1Z","size":1849,"filled":true,"opacity":1,"color":"#7E57C2","x":781.3},"encoding":{"y":{"datum":51.01}}},
{"data":{"values":[{}]},"mark":{"type":"text","text":"51.01","align":"center","fontWeight":"bold","color":"#FFFFFF","x":781.3},"encoding":{"y":{"datum":51.01}}},
{"data":{"values":[{}]},"mark":{"type":"text","text":"RSI (14)","x":8,"y":15}},
{"data":{"values":[{}]},"mark":{"type":"text","text":"51.01","x":57,"y":15,"color":"#7E57C2"}}
]
}
],
"config":{
"font":"Roboto",
"view":{"stroke":"#E0E3EB"},
"axis":{"domain":false,"ticks":false,"labelFont":"Roboto","labelFontSize":12,"labelColor":"#131722","gridColor":"#F0F3FA","gridWidth":1},
"text":{"font":"Roboto","fontSize":12,"align":"left","baseline":"middle","color":"#131722"}
}
}
